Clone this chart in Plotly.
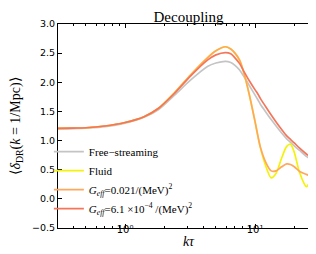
import plotly.graph_objects as go
import math

# ---- data ----
k_tau = [0.3, 0.4, 0.5, 0.7, 1.0, 1.4, 1.8, 2.4, 3.2, 4.3, 5.0, 5.9, 6.5, 7.0, 7.6, 8.1,
         9.0, 10.0, 10.5, 11.0, 12.0, 13.3, 14.5, 16.0, 17.5, 18.7, 20.0, 22.0, 24.8,
         27.0, 29.0, 31.0]

free_streaming = [1.20, 1.205, 1.215, 1.24, 1.30, 1.40, 1.53, 1.78, 2.04, 2.27, 2.33, 2.36,
                  2.34, 2.29, 2.21, 2.12, 1.95, 1.78, 1.70, 1.62, 1.50, 1.36, 1.25, 1.13,
                  1.03, 0.97, 0.91, 0.83, 0.73, 0.67, 0.63, 0.59]

fluid = [1.21, 1.215, 1.22, 1.25, 1.31, 1.41, 1.55, 1.82, 2.13, 2.42, 2.54, 2.61,
         2.57, 2.50, 2.38, 2.20, 1.80, 1.32, 1.08, 0.87, 0.58, 0.36, 0.44, 0.70,
         0.90, 0.94, 0.80, 0.45, 0.21, 0.34, 0.55, 0.62]

g_eff_0021 = [1.21, 1.215, 1.22, 1.25, 1.31, 1.41, 1.55, 1.82, 2.13, 2.42, 2.54, 2.61,
              2.57, 2.50, 2.38, 2.20, 1.80, 1.32, 1.08, 0.88, 0.64, 0.48, 0.48, 0.55,
              0.60, 0.59, 0.55, 0.47, 0.42, 0.39, 0.37, 0.35]

g_eff_61e4 = [1.21, 1.215, 1.22, 1.25, 1.31, 1.41, 1.55, 1.81, 2.11, 2.38, 2.47, 2.51,
              2.49, 2.42, 2.32, 2.21, 2.03, 1.87, 1.80, 1.72, 1.59, 1.44, 1.32, 1.19,
              1.08, 1.02, 0.96, 0.87, 0.77, 0.71, 0.67, 0.64]

series_names = ["Free\u2212streaming", "Fluid",
                "<i>G</i><sub><i>eff</i></sub>=0.021/(MeV)<sup>2</sup>",
                "<i>G</i><sub><i>eff</i></sub>=6.1 \u00d710<sup>\u22124</sup> /(MeV)<sup>2</sup>"]
series_values = [free_streaming, fluid, g_eff_0021, g_eff_61e4]
series_colors = ["#c4c4c4", "#f5f20a", "#ffa75e", "#f4765a"]

x_tick_vals = [1, 10]
x_tick_text = ["10\u2070", "10\u00b9"]
x_minor_vals = [0.3, 0.4, 0.5, 0.6, 0.7, 0.8, 0.9, 2, 3, 4, 5, 6, 7, 8, 9, 20, 30]
y_tick_vals = [-0.5, 0.0, 0.5, 1.0, 1.5, 2.0, 2.5, 3.0]
y_tick_text = ["\u22120.5", "0.0", "0.5", "1.0", "1.5", "2.0", "2.5", "3.0"]

fig = go.Figure()
for name, vals, col in zip(series_names, series_values, series_colors):
    fig.add_trace(go.Scatter(x=k_tau, y=vals, mode="lines", name=name,
                             line=dict(color=col, width=1.7, shape="spline", smoothing=0.8)))

serif = "Liberation Serif"
sans = "DejaVu Sans"

fig.update_layout(
    width=316, height=254,
    margin=dict(l=50, r=5, t=16, b=34),
    paper_bgcolor="white", plot_bgcolor="white",
    title=dict(text="Decoupling", x=0.5, xref="paper", xanchor="center",
               y=0.966, yref="container", yanchor="middle",
               font=dict(family=serif, size=15, color="black")),
    showlegend=True,
    legend=dict(x=-0.035, y=0.445, xanchor="left", yanchor="top",
                bgcolor="rgba(0,0,0,0)", font=dict(family=serif, size=11, color="black"),
                tracegroupgap=0, itemwidth=30),
)

fig.update_xaxes(
    type="log", range=[math.log10(0.305), math.log10(31)],
    tickvals=x_tick_vals, ticktext=x_tick_text,
    ticks="inside", ticklen=4, tickcolor="black", tickwidth=1,
    minor=dict(tickvals=x_minor_vals, ticks="inside", ticklen=2, tickcolor="black"),
    showline=True, linecolor="black", linewidth=1, mirror="ticks",
    showgrid=False, zeroline=False,
    tickfont=dict(family=sans, size=10, color="black"),
    ticklabelstandoff=-8,
    title=dict(text="<i>k\u03c4</i>", font=dict(family=serif, size=14, color="black"), standoff=2),
)
fig.update_yaxes(
    range=[-0.5, 3.0],
    tickvals=y_tick_vals, ticktext=y_tick_text,
    ticks="inside", ticklen=4, tickcolor="black", tickwidth=1,
    showline=True, linecolor="black", linewidth=1, mirror="ticks",
    showgrid=False, zeroline=False,
    tickfont=dict(family=sans, size=9.5, color="black"),
    title=dict(text="\u27e8<i>\u03b4</i><sub>DR</sub>(<i>k</i> = 1/Mpc)\u27e9",
               font=dict(family=serif, size=14, color="black"), standoff=8),
)

fig.write_html("out.html")
